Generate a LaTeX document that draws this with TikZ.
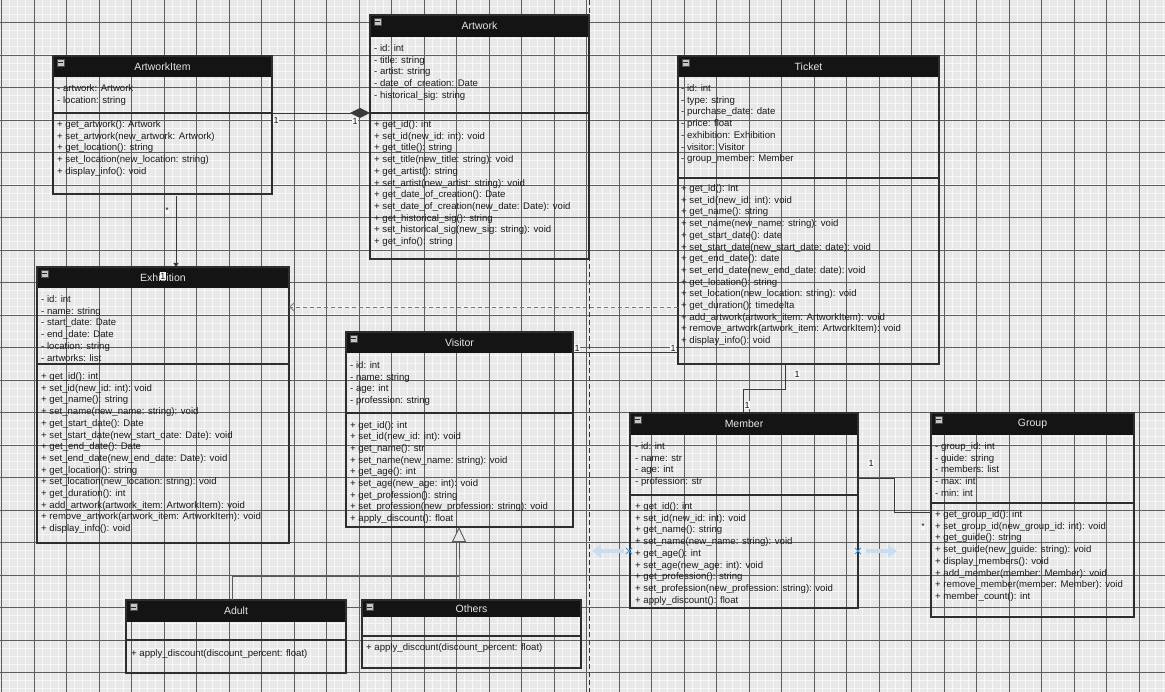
\documentclass[tikz,border=0pt]{standalone}
\usepackage{fontspec}
\setmainfont{Liberation Sans}
\usetikzlibrary{arrows.meta,fit,shapes.misc}

\definecolor{canvas}{HTML}{E8E8E8}
\definecolor{minorgrid}{HTML}{F7F7F7}
\definecolor{majorgrid}{HTML}{5E5E5E}
\definecolor{headfill}{HTML}{141414}
\definecolor{boxline}{HTML}{2E2E2E}
\definecolor{titlecol}{HTML}{E6E6E6}
\definecolor{textcol}{HTML}{1A1A1A}
\definecolor{wirecol}{HTML}{3A3A3A}
\definecolor{dashcol}{HTML}{7A7A7A}
\definecolor{handlefill}{HTML}{C9DDF0}
\definecolor{handlecross}{HTML}{3A9AE6}

\newcommand\rowfont{\fontsize{9.6}{11.7}\selectfont}

\tikzset{
  classframe/.style={draw=boxline, line width=1.2pt, inner sep=0pt, outer sep=0pt},
  classtitle/.style={text=titlecol, font=\fontsize{10.5}{12}\selectfont, inner sep=0pt},
  toggleicon/.style={draw=gray!60!black, fill=gray!45, minimum size=7pt, inner sep=0pt,
    line width=0.5pt,
    path picture={\draw[line width=1pt, black!85]
      ([xshift=1.3pt]path picture bounding box.west) --
      ([xshift=-1.3pt]path picture bounding box.east);}},
  rows/.style={anchor=north west, inner sep=0pt, align=left, font=\rowfont, text=textcol},
  sepline/.style={draw=boxline, line width=1.2pt},
  assoc/.style={draw=wirecol, line width=0.9pt},
  depend/.style={draw=dashcol, line width=0.9pt, dash pattern=on 4pt off 3pt},
  mult/.style={font=\fontsize{9}{10}\selectfont, fill=white!70!canvas, inner sep=0.7pt, text=textcol},
  pagebreak/.style={draw=black!80, line width=0.9pt, dash pattern=on 5pt off 3pt},
  handle/.style={draw=handlefill, line width=4.5pt, -{Triangle[length=9pt,width=13pt]}},
  crossmark/.style={cross out, draw=handlecross, minimum size=5pt, inner sep=0pt, line width=1pt}
}

% class box: name, left, top, right, bottom, header bottom, separator y, title
\newcommand\umlclass[8]{%
  \fill[headfill] (#2,#3) rectangle (#4,#6);
  \node[classframe, fit={(#2,#3) (#4,#5)}] (#1) {};
  \draw[sepline] (#2,#7) -- (#4,#7);
  \node[classtitle] (#1-title) at ({(#2+#4)/2},{(#3+#6)/2}) {#8};
  \node[toggleicon] (#1-icon) at ({#2+7.5},{#3+7}) {};
}

\begin{document}
\begin{tikzpicture}[x=1pt,y=-1pt]
\useasboundingbox (0,0) rectangle (1165,692);
\clip (0,0) rectangle (1165,692);

% canvas grid
\fill[canvas] (0,0) rectangle (1165,692);
\foreach \k in {0,...,143}
  \draw[minorgrid, line width=1pt] ({1.5+\k*8.125},0) -- ++(0,692);
\foreach \k in {0,...,86}
  \draw[minorgrid, line width=1pt] (0,{-10+\k*8.125}) -- ++(1165,0);
\foreach \k in {0,...,35}
  \draw[majorgrid, line width=0.8pt] ({1.5+\k*32.5},0) -- ++(0,692);
\foreach \k in {1,...,21}
  \draw[majorgrid, line width=0.8pt] (0,{-10+\k*32.5}) -- ++(1165,0);

% page boundary
\coordinate (pb-top) at (589,0);
\coordinate (pb-bot) at (589,692);
\draw[pagebreak] (pb-top) -- (pb-bot);

% ---------- classes ----------
\umlclass{artworkitem}{53}{56}{272}{194}{77}{113}{ArtworkItem}
\node[rows] (artworkitem-attrs) at (57,83.2) {\strut- artwork: Artwork\\- location: string};
\node[rows] (artworkitem-ops) at (57,119.2) {\strut+ get\_artwork(): Artwork\\+ set\_artwork(new\_artwork: Artwork)\\+ get\_location(): string\\+ set\_location(new\_location: string)\\+ display\_info(): void};

\umlclass{artwork}{370}{15}{589}{259}{37}{113}{Artwork}
\node[rows] (artwork-attrs) at (374,43.2) {\strut- id: int\\- title: string\\- artist: string\\- date\_of\_creation: Date\\- historical\_sig: string};
\node[rows] (artwork-ops) at (374,119.2) {\strut+ get\_id(): int\\+ set\_id(new\_id: int): void\\+ get\_title(): string\\+ set\_title(new\_title: string): void\\+ get\_artist(): string\\+ set\_artist(new\_artist: string): void\\+ get\_date\_of\_creation(): Date\\+ set\_date\_of\_creation(new\_date: Date): void\\+ get\_historical\_sig(): string\\+ set\_historical\_sig(new\_sig: string): void\\+ get\_info(): string};

\umlclass{ticket}{678}{56}{939}{364}{77}{178}{Ticket}
\node[rows] (ticket-attrs) at (681,83.2) {\strut- id: int\\- type: string\\- purchase\_date: date\\- price: float\\- exhibition: Exhibition\\- visitor: Visitor\\- group\_member: Member};
\node[rows] (ticket-ops) at (681,183.2) {\strut+ get\_id(): int\\+ set\_id(new\_id: int): void\\+ get\_name(): string\\+ set\_name(new\_name: string): void\\+ get\_start\_date(): date\\+ set\_start\_date(new\_start\_date: date): void\\+ get\_end\_date(): date\\+ set\_end\_date(new\_end\_date: date): void\\+ get\_location(): string\\+ set\_location(new\_location: string): void\\+ get\_duration(): timedelta\\+ add\_artwork(artwork\_item: ArtworkItem): void\\+ remove\_artwork(artwork\_item: ArtworkItem): void\\+ display\_info(): void};

\umlclass{exhibition}{37}{267}{289}{543}{288}{364}{Exhibition}
\node[rows] (exhibition-attrs) at (41,294.2) {\strut- id: int\\- name: string\\- start\_date: Date\\- end\_date: Date\\- location: string\\- artworks: list};
\node[rows] (exhibition-ops) at (41,371.2) {\strut+ get\_id(): int\\+ set\_id(new\_id: int): void\\+ get\_name(): string\\+ set\_name(new\_name: string): void\\+ get\_start\_date(): Date\\+ set\_start\_date(new\_start\_date: Date): void\\+ get\_end\_date(): Date\\+ set\_end\_date(new\_end\_date: Date): void\\+ get\_location(): string\\+ set\_location(new\_location: string): void\\+ get\_duration(): int\\+ add\_artwork(artwork\_item: ArtworkItem): void\\+ remove\_artwork(artwork\_item: ArtworkItem): void\\+ display\_info(): void};

\umlclass{visitor}{346}{332}{573}{527}{353}{413}{Visitor}
\node[rows] (visitor-attrs) at (350,360.2) {\strut- id: int\\- name: string\\- age: int\\- profession: string};
\node[rows] (visitor-ops) at (350,419.7) {\strut+ get\_id(): int\\+ set\_id(new\_id: int): void\\+ get\_name(): str\\+ set\_name(new\_name: string): void\\+ get\_age(): int\\+ set\_age(new\_age: int): void\\+ get\_profession(): string\\+ set\_profession(new\_profession: string): void\\+ apply\_discount(): float};

\umlclass{member}{630}{413}{858}{608}{435}{495}{Member}
\node[rows] (member-attrs) at (635,441.2) {\strut- id: int\\- name: str\\- age: int\\- profession: str};
\node[rows] (member-ops) at (635,501.2) {\strut+ get\_id(): int\\+ set\_id(new\_id: int): void\\+ get\_name(): string\\+ set\_name(new\_name: string): void\\+ get\_age(): int\\+ set\_age(new\_age: int): void\\+ get\_profession(): string\\+ set\_profession(new\_profession: string): void\\+ apply\_discount(): float};

\umlclass{group}{931}{413}{1134}{617}{435}{503}{Group}
\node[rows] (group-attrs) at (935,441.2) {\strut- group\_id: int\\- guide: string\\- members: list\\- max: int\\- min: int};
\node[rows] (group-ops) at (935,509.2) {\strut+ get\_group\_id(): int\\+ set\_group\_id(new\_group\_id: int): void\\+ get\_guide(): string\\+ set\_guide(new\_guide: string): void\\+ display\_members(): void\\+ add\_member(member: Member): void\\+ remove\_member(member: Member): void\\+ member\_count(): int};

\umlclass{adult}{126}{600}{346}{673}{622}{640}{Adult}
\node[rows] (adult-ops) at (131,648.2) {\strut+ apply\_discount(discount\_percent: float)};

\umlclass{others}{362}{600}{581}{668}{617}{636}{Others}
\node[rows] (others-ops) at (366,642.2) {\strut+ apply\_discount(discount\_percent: float)};

% ---------- relationships ----------
% composition ArtworkItem -- Artwork
\draw[assoc, -{Diamond[length=20pt,width=10pt]}]
  ([yshift=-57pt]artworkitem.north east) -- ([yshift=-98pt]artwork.north west);
\node[mult] (m-ai-a) at (276,120) {1};
\node[mult] (m-a-ai) at (355,121) {1};

% ArtworkItem -- Exhibition
\draw[assoc, -{Triangle[length=4pt,width=5pt]}]
  ([xshift=123pt,yshift=-2pt]artworkitem.south west) -- ([xshift=139pt]exhibition.north west);
\node[mult] (m-ai-e) at (167,210) {*};
\node[mult] (m-e-ai) at (163,276) {1};

% Ticket depends on Exhibition
\draw[depend, -{Straight Barb[length=5pt,width=9pt]}]
  ([yshift=-251pt]ticket.north west) -- ([yshift=-40pt]exhibition.north east);

% Visitor -- Ticket
\draw[assoc] ([yshift=-20pt]visitor.north east) -- ([yshift=-296pt]ticket.north west);
\node[mult] (m-v-t) at (577,348) {1};
\node[mult] (m-t-v) at (673,348) {1};

% Ticket -- Member
\draw[assoc] ([xshift=107pt]ticket.south west) -- ++(0,25) -| ([xshift=113pt]member.north west);
\node[mult] (m-t-m) at (797,374) {1};
\node[mult] (m-m-t) at (747,405) {1};

% Member -- Group
\draw[assoc] ([yshift=-65pt]member.north east) -- ++(36,0) |- ([yshift=-99pt]group.north west);
\node[mult] (m-m-g) at (871,463) {1};
\node[mult] (m-g-m) at (923,526) {*};

% generalization Adult, Others -> Visitor
\coordinate (genjoin) at (459,576);
\draw[assoc, draw=black!65, -{Triangle[open,length=15pt,width=14pt,fill=canvas]}]
  ([xshift=97pt]others.north west) -- (genjoin) -- ([xshift=113pt]visitor.south west);
\draw[assoc, draw=black!65] ([xshift=106pt]adult.north west) |- (genjoin);

% resize handles on Member
\coordinate (hl-tail) at (624,551);
\coordinate (hl-tip) at (592,551);
\coordinate (hr-tail) at (866,551);
\coordinate (hr-tip) at (897,551);
\draw[handle] (hl-tail) -- (hl-tip);
\draw[handle] (hr-tail) -- (hr-tip);
\node[crossmark] (hx-left) at (629,551) {};
\node[crossmark] (hx-right) at (858,551) {};

\end{tikzpicture}
\end{document}
